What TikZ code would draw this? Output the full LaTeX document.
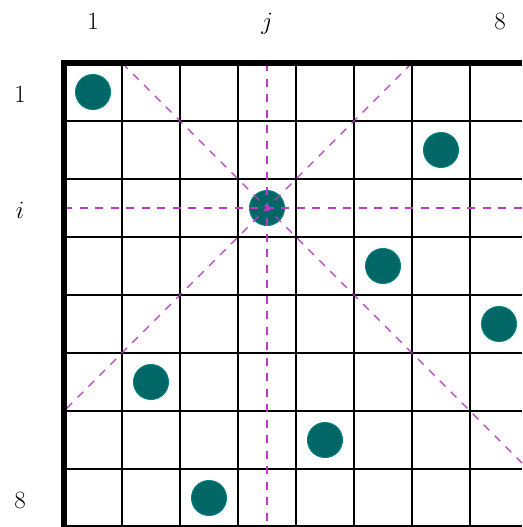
\documentclass[tikz,border=0pt]{standalone}
\usepackage{tikz}
\definecolor{queen}{RGB}{0,102,102}
\definecolor{queenedge}{RGB}{0,128,128}
\definecolor{attack}{RGB}{185,60,195}
\begin{document}
\begin{tikzpicture}[x=1pt,y=-1pt,
  gridline/.style={line width=2pt,black},
  border/.style={line width=5.5pt,black},
  attackline/.style={attack,line width=1.1pt,dash pattern=on 8pt off 7.5pt},
  queenpc/.style={circle,fill=queen,draw=queenedge,line width=1pt,minimum size=35pt,inner sep=0pt},
  lab/.style={anchor=base,font=\fontsize{25}{30}\selectfont}]
\useasboundingbox (0,0) rectangle (522,527);
% grid
\foreach \k in {1,...,7} {
  \draw[gridline] ({64+58*\k},63) -- ({64+58*\k},527);
  \draw[gridline] (64,{63+58*\k}) -- (522,{63+58*\k});
}
\draw[gridline] (64,526) -- (522,526);
% queens
\foreach \r/\c [count=\n] in {1/1,2/7,3/4,4/6,5/8,6/2,7/5,8/3}
  \node[queenpc] (q\n) at ({64+58*\c-29},{63+58*\r-29}) {};
% attack lines through (i,j)
\coordinate (dtl) at (122,63);
\coordinate (dbr) at (522,463);
\coordinate (atr) at (412,63);
\coordinate (abl) at (64,411);
\coordinate (vt) at (267,63);
\coordinate (vb) at (267,527);
\coordinate (hl) at (64,208);
\coordinate (hr) at (522,208);
\draw[attackline] (dtl) -- (dbr);
\draw[attackline] (atr) -- (abl);
\draw[attackline] (vt) -- (vb);
\draw[attackline] (hl) -- (hr);
% border
\draw[border] (64,527) -- (64,63) -- (522,63);
% labels
\node[lab] (c1) at (93,30) {$1$};
\node[lab] (cj) at (267,30) {$j$};
\node[lab] (c8) at (500,30) {$8$};
\node[lab] (r1) at (20,102) {$1$};
\node[lab] (ri) at (20,218) {$i$};
\node[lab] (r8) at (20,508) {$8$};
\end{tikzpicture}
\end{document}
